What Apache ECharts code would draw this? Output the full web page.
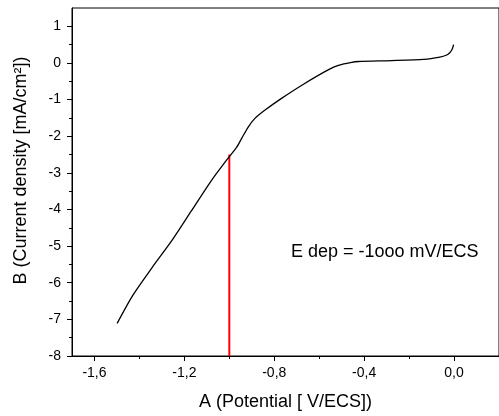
<!DOCTYPE html>
<html>
<head>
<meta charset="utf-8">
<script src="https://cdn.jsdelivr.net/npm/echarts@6/dist/echarts.min.js"></script>
<style>html,body{margin:0;padding:0;background:#fff}#c{width:499px;height:416px}</style>
</head>
<body>
<div id="c"></div>
<script>
// Polarization curve: potential (V/ECS) vs current density (mA/cm²)
const potential = [-1.499,-1.429,-1.343,-1.256,-1.169,-1.082,-1.003,-0.967,-0.945,-0.916,-0.887,-0.844,-0.771,-0.670,-0.554,-0.511,-0.461,-0.424,-0.280,-0.135,-0.063,-0.035,-0.019,-0.008,-0.002];
const current   = [-7.11,-6.34,-5.58,-4.85,-4.04,-3.23,-2.58,-2.30,-2.06,-1.75,-1.52,-1.30,-0.98,-0.58,-0.17,-0.06,0.01,0.04,0.065,0.10,0.16,0.21,0.28,0.38,0.50];
const depositX = [-1.0, -1.0];
const depositY = [-8, -2.5];
const xMajorTicks = [-1.6, -1.2, -0.8, -0.4, 0.0];
const xMinorTicks = [-1.4, -1.0, -0.6, -0.2];
const yMajorTicks = [-8, -7, -6, -5, -4, -3, -2, -1, 0, 1];
const yMinorTicks = [-7.5, -6.5, -5.5, -4.5, -3.5, -2.5, -1.5, -0.5, 0.5];
const xTitle = 'A (Potential [ V/ECS])';
const yTitle = 'B (Current density [mA/cm²])';
const note = 'E dep = -1ooo mV/ECS';

const FONT = 'Liberation Sans, Arial, sans-serif';
const fmt = v => (Math.abs(v) < 1e-9 ? 0 : v).toFixed(1).replace('.', ',');
const fmtY = v => String(Math.round(v));

const chart = echarts.init(document.getElementById('c'));
const xBase = {type:'value', min:-1.7, max:0.2, splitLine:{show:false}};
const yBase = {type:'value', min:-8, max:1.5, splitLine:{show:false}};
chart.setOption({
  animation:false,
  backgroundColor:'#fff',
  grid:{left:72, top:8, width:438, height:351, show:true, borderColor:'#000', borderWidth:1, backgroundColor:'transparent'},
  xAxis:[
    Object.assign({}, xBase, {
      position:'bottom',
      name:xTitle, nameLocation:'middle', nameGap:37,
      nameTextStyle:{fontFamily:FONT, fontSize:18, color:'#000'},
      axisLine:{onZero:false, lineStyle:{color:'#000', width:1}},
      axisTick:{show:true, length:5, inside:false, customValues:xMajorTicks, lineStyle:{color:'#000'}},
      axisLabel:{customValues:xMajorTicks, formatter:fmt, fontFamily:FONT, fontSize:14, color:'#000', margin:10}
    }),
    Object.assign({}, xBase, {
      position:'bottom', gridIndex:0,
      axisLine:{show:false, onZero:false},
      axisTick:{show:true, length:3, customValues:xMinorTicks, lineStyle:{color:'#000'}},
      axisLabel:{show:false, customValues:xMinorTicks}
    })
  ],
  yAxis:[
    Object.assign({}, yBase, {
      position:'left',
      name:yTitle, nameLocation:'middle', nameGap:42, nameRotate:90,
      nameTextStyle:{fontFamily:FONT, fontSize:18, color:'#000', padding:[0,0,0,23]},
      axisLine:{onZero:false, lineStyle:{color:'#000', width:1}},
      axisTick:{show:true, length:5, customValues:yMajorTicks, lineStyle:{color:'#000'}},
      axisLabel:{customValues:yMajorTicks, formatter:fmtY, fontFamily:FONT, fontSize:14, color:'#000', margin:11}
    }),
    Object.assign({}, yBase, {
      position:'left',
      axisLine:{show:false, onZero:false},
      axisTick:{show:true, length:3, customValues:yMinorTicks, lineStyle:{color:'#000'}},
      axisLabel:{show:false, customValues:yMinorTicks}
    })
  ],
  series:[
    {type:'line', xAxisIndex:0, yAxisIndex:0, data:potential.map((v,i)=>[v,current[i]]),
     showSymbol:false, smooth:0.25, lineStyle:{color:'#000', width:1.3}, z:3},
    {type:'line', xAxisIndex:0, yAxisIndex:0, data:depositX.map((v,i)=>[v,depositY[i]]),
     showSymbol:false, lineStyle:{color:'#ff0000', width:2}, z:2}
  ],
  graphic:[
    {type:'text', left:291, top:243, style:{text:note, fontFamily:FONT, fontSize:18, fill:'#000'}}
  ]
});
</script>
</body>
</html>
